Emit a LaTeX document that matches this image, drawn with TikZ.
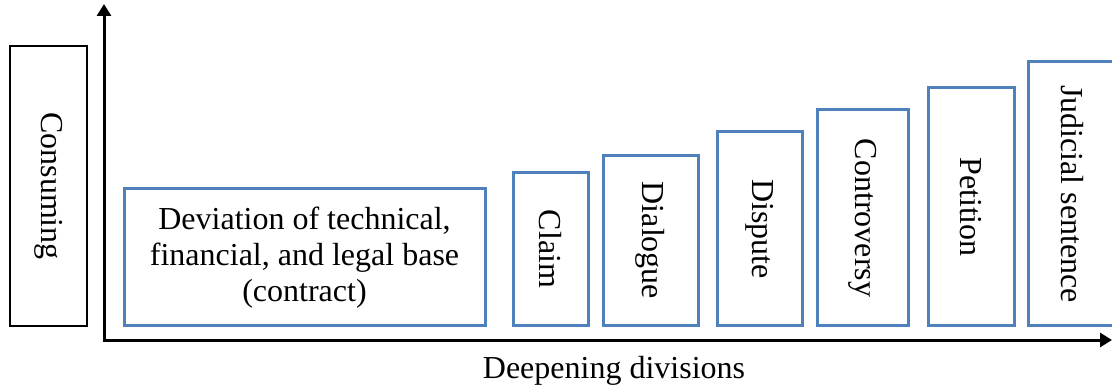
\documentclass[tikz,border=0pt]{standalone}
\usepackage{fontspec}
\setmainfont{Liberation Serif}
\usepackage{tikz}
\usetikzlibrary{arrows.meta}
\definecolor{boxblue}{RGB}{79,129,189}

\begin{document}
\begin{tikzpicture}[x=0.5pt,y=-0.5pt,font=\fontsize{16}{18}\selectfont,
  blubox/.style={draw=boxblue,line width=1.5pt,rectangle,inner sep=2pt},
  stage/.style 2 args={blubox,rotate=-90,minimum width=#1,minimum height=#2},
  axis/.style={line width=1.5pt,{Triangle[length=6pt,width=7pt]}-{Triangle[length=6pt,width=7pt]}}]
\clip (0,0) rectangle (1112,389);
\useasboundingbox (0,0) rectangle (1112,389);
% vertical label
\node[draw,line width=0.75pt,rotate=-90,minimum width=140pt,minimum height=38.5pt] (cons) at (48.5,186) {Consuming};
% axes
\coordinate (o) at (104,340);
\coordinate (ytip) at (104,4);
\coordinate (xtip) at (1112,340);
\draw[axis] (ytip) -- (o) -- (xtip);
\node (xlab) at (614,371) {Deepening divisions};
% first stage
\node[blubox,align=center,minimum width=180.5pt,minimum height=68.5pt] (dev) at (304.5,257.5)
   {Deviation of technical,\\ financial, and legal base\\ (contract)};
% the rising stages
\foreach \n/\cx/\cy/\h/\w/\t in %
{claim/550.5/249/76.5/37.5/Claim,dial/650.5/240.5/85/47.5/Dialogue,
 disp/759.5/229/97/42.5/Dispute,contr/862.5/218/108/45.5/Controversy,
 peti/971/207/119/43/Petition,judi/1072/194/132/44/Judicial sentence} {
   \node[stage={\h pt}{\w pt}] (\n) at (\cx,\cy) {\t};
}
\end{tikzpicture}
\end{document}
